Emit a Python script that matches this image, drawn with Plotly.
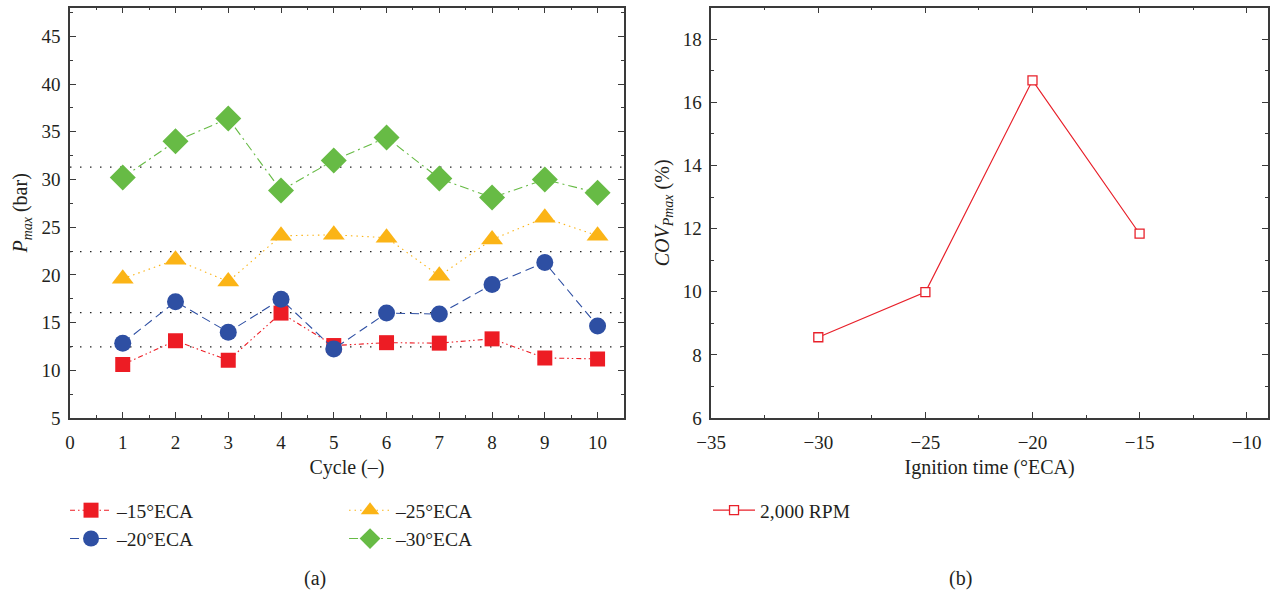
import plotly.graph_objects as go

# ---------------- data (panel a) ----------------
cycles = [1, 2, 3, 4, 5, 6, 7, 8, 9, 10]
p_m15 = [10.6, 13.1, 11.05, 16.0, 12.6, 12.9, 12.85, 13.3, 11.3, 11.2]
p_m20 = [12.85, 17.2, 14.0, 17.45, 12.25, 16.0, 15.9, 19.0, 21.3, 14.65]
p_m25 = [19.6, 21.6, 19.3, 24.1, 24.2, 23.9, 19.9, 23.7, 26.0, 24.1]
p_m30 = [30.2, 34.0, 36.4, 28.85, 32.0, 34.4, 30.1, 28.1, 30.0, 28.6]
mean_levels = [12.45, 16.05, 22.45, 31.3]
series_names = ["–15°ECA", "–20°ECA", "–25°ECA", "–30°ECA"]

# ---------------- data (panel b) ----------------
ign_time = [-30, -25, -20, -15]
cov_pmax = [8.56, 9.99, 16.7, 11.84]
rpm_name = "2,000 RPM"

FONT = "Liberation Serif"
TXT = "#231f20"
AX = "#3a3a3a"

fig = go.Figure()

styles = [
    dict(color="#ed1c24", symbol="square", size=15, dash="5px,3px,1.5px,3px,1.5px,3px", legend="legend"),
    dict(color="#2e4fa3", symbol="circle", size=17, dash="9px,5px", legend="legend"),
    dict(color="#fbb416", symbol="triangle-up", size=19, dash="1.5px,4px", legend="legend2"),
    dict(color="#67bb45", symbol="diamond", size=20, dash="9px,4px,2px,4px", legend="legend2"),
]
for name, vals, st in zip(series_names, [p_m15, p_m20, p_m25, p_m30], styles):
    fig.add_trace(go.Scatter(
        x=cycles, y=vals, name=name, mode="lines+markers",
        line=dict(color=st["color"], width=1.1, dash=st["dash"]),
        marker=dict(color=st["color"], symbol=st["symbol"], size=st["size"], line=dict(width=0)),
        xaxis="x", yaxis="y", legend=st["legend"],
    ))

for m in mean_levels:
    fig.add_shape(type="line", xref="x domain", yref="y", x0=0, x1=1, y0=m, y1=m,
                  line=dict(color="#222", width=1.3, dash="1.5px,8.5px"), layer="below")

fig.add_trace(go.Scatter(
    x=ign_time, y=cov_pmax, name=rpm_name, mode="lines+markers",
    line=dict(color="#e8202a", width=1.2),
    marker=dict(color="white", symbol="square", size=9, line=dict(color="#e8202a", width=1.3)),
    xaxis="x2", yaxis="y2", legend="legend3",
))

axcommon = dict(
    showline=True, linecolor=AX, linewidth=1.5, mirror="ticks",
    ticks="inside", ticklen=6, tickwidth=1.2, tickcolor=AX,
    showgrid=False, zeroline=False, automargin=False,
    tickfont=dict(family=FONT, size=19, color=TXT),
)
minor = lambda d: dict(dtick=d, ticks="inside", ticklen=3, tickwidth=1, tickcolor=AX, showgrid=False)
tfont = dict(family=FONT, size=20, color=TXT)
lfont = dict(family=FONT, size=19.5, color=TXT)
legcommon = dict(xanchor="left", yanchor="top", orientation="v", font=lfont,
                 bgcolor="rgba(0,0,0,0)", itemwidth=42, y=0.172)

fig.update_layout(
    width=1270, height=593,
    margin=dict(l=0, r=0, t=0, b=0, autoexpand=False),
    paper_bgcolor="white", plot_bgcolor="white",
    font=dict(family=FONT, size=18, color=TXT),
    xaxis=dict(domain=[0.0551, 0.4913], range=[0, 10.5], dtick=1, tick0=0, minor=minor(0.5),
               ticklabelstandoff=6,
               title=dict(text="Cycle (–)", font=tfont, standoff=8),
               anchor="y", **axcommon),
    yaxis=dict(domain=[0.295, 0.987], range=[5, 48], dtick=5, tick0=0, minor=minor(2.5),
               ticklabelstandoff=4,
               title=dict(text="<i>P</i><sub><i>max</i></sub> (bar)", font=tfont, standoff=8),
               anchor="x", **axcommon),
    xaxis2=dict(domain=[0.5600, 0.9985], range=[-35, -9], dtick=5, tick0=0, minor=minor(2.5),
                ticklabelstandoff=6,
                title=dict(text="Ignition time (°ECA)", font=tfont, standoff=8),
                anchor="y2", **axcommon),
    yaxis2=dict(domain=[0.295, 0.987], range=[6, 19], dtick=2, tick0=0, minor=minor(1),
                ticklabelstandoff=4,
                title=dict(text="<i>COV</i><sub><i>Pmax</i></sub> (%)", font=tfont, standoff=8),
                anchor="x2", **axcommon),
    legend=dict(x=0.0512, **legcommon),
    legend2=dict(x=0.2709, **legcommon),
    legend3=dict(x=0.5575, **legcommon),
    annotations=[
        dict(text="(a)", x=0.248, y=0.025, xref="paper", yref="paper", showarrow=False,
             font=dict(family=FONT, size=20, color=TXT), xanchor="center", yanchor="middle"),
        dict(text="(b)", x=0.756, y=0.025, xref="paper", yref="paper", showarrow=False,
             font=dict(family=FONT, size=20, color=TXT), xanchor="center", yanchor="middle"),
    ],
)

fig.write_html("out.html", config={"displayModeBar": False},
               post_script="document.body.style.margin='0px';document.body.style.overflow='hidden';")
